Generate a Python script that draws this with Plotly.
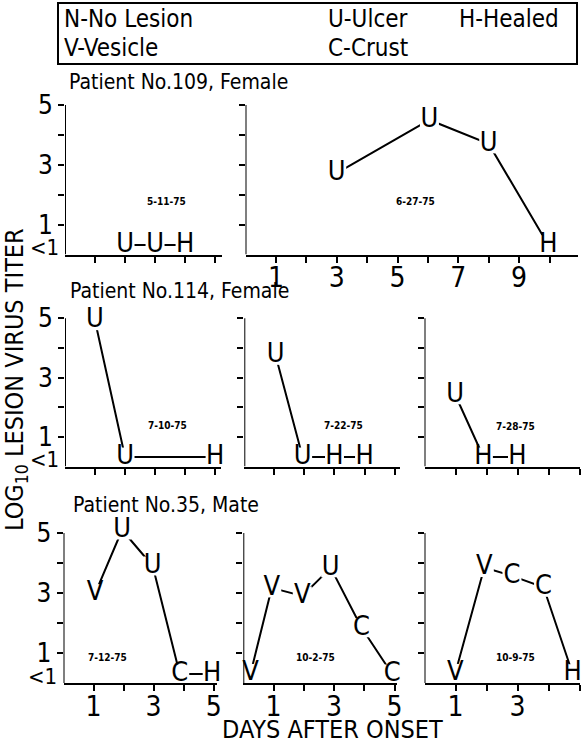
import plotly.graph_objects as go

W, H = 582, 744
FONT = "DejaVu Sans Condensed, DejaVu Sans, sans-serif"

# ---------------- data (days after onset, log10 titer, lesion stage) -------------
p109a_days = [2, 3, 4]
p109a_vals = [0.32, 0.32, 0.32]
p109a_stage = ["U", "U", "H"]

p109b_days = [3.0, 6.05, 8.0, 9.96]
p109b_vals = [2.72, 4.5, 3.7, 0.32]
p109b_stage = ["U", "U", "U", "H"]

p114a_days = [1, 2, 5]
p114a_vals = [4.92, 0.32, 0.32]
p114a_stage = ["U", "U", "H"]

p114b_days = [1.04, 1.94, 3.0, 4.0]
p114b_vals = [3.75, 0.32, 0.32, 0.32]
p114b_stage = ["U", "U", "H", "H"]

p114c_days = [0.99, 1.9, 3.0]
p114c_vals = [2.42, 0.32, 0.32]
p114c_stage = ["U", "H", "H"]

p35a_days = [1.05, 1.95, 2.97, 3.87, 4.95]
p35a_vals = [2.98, 5.1, 3.9, 0.3, 0.3]
p35a_stage = ["V", "U", "U", "C", "H"]

p35b_days = [0.24, 0.94, 1.95, 2.89, 3.91, 4.92]
p35b_vals = [0.32, 3.17, 2.9, 3.84, 1.84, 0.3]
p35b_stage = ["V", "V", "V", "U", "C", "C"]

p35c_days = [0.99, 1.93, 2.82, 3.84, 4.78]
p35c_vals = [0.32, 3.85, 3.57, 3.19, 0.31]
p35c_stage = ["V", "V", "C", "C", "H"]

dates = ["5-11-75", "6-27-75", "7-10-75", "7-22-75", "7-28-75",
         "7-12-75", "10-2-75", "10-9-75"]
date_x = [3.39, 5.58, 3.43, 3.29, 2.93, 1.45, 2.37, 2.93]
date_y = [1.78, 1.77, 1.39, 1.38, 1.35, 0.86, 0.85, 0.84]

patients = ["Patient No.109, Female", "Patient No.114, Female", "Patient No.35, Mate"]
legend_items = ["N-No Lesion", "V-Vesicle", "U-Ulcer", "C-Crust", "H-Healed"]
y_tickvals = [1, 2, 3, 4, 5]
y_ticktext = ["1", "", "3", "", "5"]
below_one = "&lt;1"
x_ticks_short = [1, 2, 3, 4, 5]
x_text_short = ["1", "", "3", "", "5"]
x_ticks_long = [1, 2, 3, 4, 5, 6, 7, 8, 9, 10]
x_text_long = ["1", "", "3", "", "5", "", "7", "", "9", ""]

# ---------------- layout geometry (pixels) ----------------
def px(x):
    return x / W

def py(y):
    return 1 - y / H

YMAX = 5.3  # a little headroom so the tallest stage letter is not hidden
rows_y = [(105, 254.5), (318.3, 466.5), (533, 683)]  # pixel rows of value 5 and value 0
panels = [
    (p109a_days, p109a_vals, p109a_stage, 0, (65, 222), 5.23, False, x_ticks_short, x_text_short, True),
    (p109b_days, p109b_vals, p109b_stage, 0, (245.5, 577.5), 10.92, True, x_ticks_long, x_text_long, False),
    (p114a_days, p114a_vals, p114a_stage, 1, (65, 220.5), 5.18, False, x_ticks_short, x_text_short, True),
    (p114b_days, p114b_vals, p114b_stage, 1, (244.3, 400), 5.18, False, x_ticks_short, x_text_short, False),
    (p114c_days, p114c_vals, p114c_stage, 1, (424.5, 579.5), 5.0, False, x_ticks_short, x_text_short, False),
    (p35a_days, p35a_vals, p35a_stage, 2, (63.5, 216.7), 5.1, True, x_ticks_short, x_text_short, True),
    (p35b_days, p35b_vals, p35b_stage, 2, (243.3, 396.7), 5.07, True, x_ticks_short, x_text_short, False),
    (p35c_days, p35c_vals, p35c_stage, 2, (424.5, 579.5), 5.0, True, x_ticks_short, x_text_short, False),
]

fig = go.Figure()
layout = dict(
    width=W, height=H, margin=dict(l=0, r=0, t=0, b=0, autoexpand=False),
    paper_bgcolor="white", plot_bgcolor="rgba(0,0,0,0)",
    showlegend=False, font=dict(family=FONT, color="black"),
)

annotations = []
shapes = []

for i, (d, v, s, row, (x0, x1), xr, xlab, xt, xtt, ylab) in enumerate(panels):
    n = "" if i == 0 else str(i + 1)
    xa = "x" + n
    ya = "y" + n
    ytop, ybot = rows_y[row]
    unit = (ybot - ytop) / 5.0
    ydom_top = ytop - (YMAX - 5) * unit
    layout["xaxis" + n] = dict(
        domain=[px(x0), px(x1)], range=[0, xr], anchor=ya, automargin=False,
        showline=True, linewidth=2, linecolor="black", mirror=False,
        ticks="outside", ticklen=6, tickwidth=2, tickcolor="black",
        tickvals=xt, ticktext=xtt, showticklabels=xlab, ticklabelstandoff=-9,
        tickfont=dict(size=28, family=FONT), showgrid=False, zeroline=False,
        fixedrange=True,
    )
    layout["yaxis" + n] = dict(
        domain=[py(ybot), py(ydom_top)], range=[0, YMAX], anchor=xa, automargin=False,
        showline=False,
        ticks="outside", ticklen=6, tickwidth=2, tickcolor="black",
        tickvals=y_tickvals, ticktext=y_ticktext, showticklabels=ylab,
        tickfont=dict(size=26, family=FONT), showgrid=False, zeroline=False,
        fixedrange=True,
    )
    # vertical axis line from 0 to 5 only
    shapes.append(dict(type="line", xref=xa, yref=ya, x0=0, x1=0, y0=0, y1=5,
                       line=dict(color="black", width=2)))
    fig.add_trace(go.Scatter(
        x=d, y=v, text=s, xaxis=xa, yaxis=ya,
        mode="lines+markers+text",
        line=dict(color="black", width=2),
        marker=dict(symbol="square", size=19, color="white", line=dict(width=0)),
        textposition="middle center",
        textfont=dict(size=27, family=FONT, color="black"),
        cliponaxis=False, hoverinfo="skip",
    ))
    annotations.append(dict(
        x=date_x[i], y=date_y[i], xref=xa, yref=ya, text="<b>" + dates[i] + "</b>",
        showarrow=False, font=dict(size=10, family=FONT, color="black"),
    ))
    if ylab:
        annotations.append(dict(
            x=px(x0 - 21), y=py(ybot - 0.22 * unit), xref="paper", yref="paper",
            text=below_one, showarrow=False, xanchor="center", yanchor="middle",
            font=dict(size=22, family=FONT, color="black"),
        ))

# panel titles
for t, yc, xl in zip(patients, [82, 291, 505], [67, 68, 71]):
    annotations.append(dict(
        x=px(xl), y=py(yc), xref="paper", yref="paper", text=t, showarrow=False,
        xanchor="left", yanchor="middle", font=dict(size=21, family=FONT, color="black"),
    ))

# legend box
shapes.append(dict(type="rect", xref="paper", yref="paper",
                   x0=px(58), x1=px(577), y0=py(64), y1=py(3),
                   line=dict(color="black", width=2), fillcolor="rgba(0,0,0,0)"))
leg_pos = [(62, 19), (62, 48), (326, 19), (326, 48), (457, 19)]
for t, (lx, ly) in zip(legend_items, leg_pos):
    annotations.append(dict(
        x=px(lx), y=py(ly), xref="paper", yref="paper", text=t, showarrow=False,
        xanchor="left", yanchor="middle", font=dict(size=24, family=FONT, color="black"),
    ))

# axis titles
annotations.append(dict(
    x=px(16), y=py(380), xref="paper", yref="paper",
    text="LOG<sub>10</sub> LESION VIRUS TITER", textangle=-90, showarrow=False,
    xanchor="center", yanchor="middle", font=dict(size=25, family=FONT, color="black"),
))
annotations.append(dict(
    x=px(332), y=py(729), xref="paper", yref="paper",
    text="DAYS AFTER ONSET", showarrow=False,
    xanchor="center", yanchor="middle", font=dict(size=25, family=FONT, color="black"),
))

layout["annotations"] = annotations
layout["shapes"] = shapes
fig.update_layout(**layout)
fig.write_html(
    "out.html",
    config={"displayModeBar": False},
    post_script="document.body.style.margin='0px';document.body.style.overflow='hidden';",
)
